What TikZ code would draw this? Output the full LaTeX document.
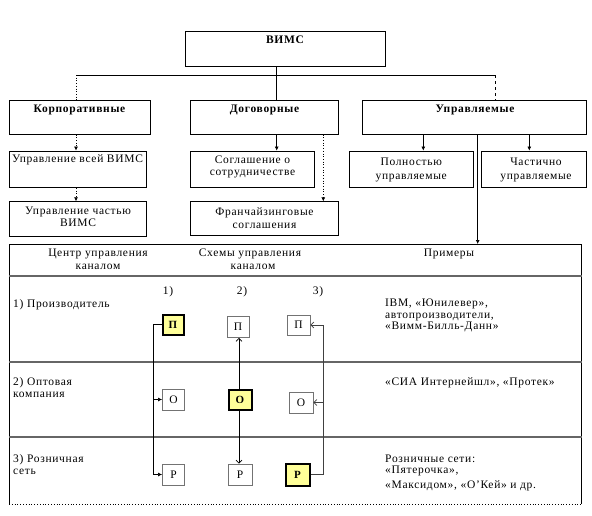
\documentclass[tikz,border=0pt]{standalone}
\usepackage{fontspec}
\setmainfont{Liberation Serif}[LetterSpace=6]
\usetikzlibrary{arrows.meta}
\definecolor{lyel}{RGB}{255,255,153}
\begin{document}
\begin{tikzpicture}[x=1pt,y=-1pt,
  font=\fontsize{11.5}{13}\selectfont,
  bx/.style={draw, line width=0.7pt, inner sep=0pt},
  hb/.style={font=\fontsize{11.5}{13}\selectfont\bfseries, inner sep=0pt},
  tx/.style={inner sep=0pt, anchor=base},
  tl/.style={inner sep=0pt, anchor=base west},
  arr/.style={-{Latex[length=4pt,width=4pt]}},
  sb/.style={draw=black!55, line width=0.9pt, inner sep=0pt, minimum width=22pt, minimum height=21pt},
  yb/.style={draw=black, line width=2pt, fill=lyel, inner sep=0pt, minimum width=21pt, minimum height=20pt, font=\fontsize{11}{13}\selectfont\bfseries},
  fa/.style={-{Latex[length=4pt,width=4pt]}, line width=0.6pt},
  oa/.style={-{Straight Barb[length=3pt,width=6pt]}, line width=0.6pt},
  rowl/.style={draw=black!60, line width=1.1pt}
]
\useasboundingbox (0,0) rectangle (592,515);

% top level
\node[bx, minimum width=200pt, minimum height=35pt] (vims) at (285,49.2) {};
\node[hb] (vimsT) at (285,39.5) {ВИМС};

\node[bx, minimum width=140.7pt, minimum height=33.6pt] (korp) at (79.7,117.5) {};
\node[hb] (korpT) at (79.5,109.5) {Корпоративные};
\node[bx, minimum width=147.6pt, minimum height=33.6pt] (dog) at (264.5,117.5) {};
\node[hb] (dogT) at (264.5,110) {Договорные};
\node[bx, minimum width=223.7pt, minimum height=33.6pt] (upr) at (474.2,117.5) {};
\node[hb] (uprT) at (475,109.5) {Управляемые};

\coordinate (j0) at (276.7,75);
\coordinate (jl) at (76,75);
\coordinate (jr) at (495.7,75);
\draw[line width=0.7pt] (vims.south -| j0) -- (dog.north -| j0);
\draw[line width=0.7pt] (jl) -- (jr);
\draw[line width=0.7pt, dotted] (jl) -- (korp.north -| jl);
\draw[line width=0.7pt, dashed] (jr) -- (upr.north -| jr);

% second level
\node[bx, minimum width=137.4pt, minimum height=36.7pt] (all1) at (78,169.3) {};
\node[tx] (all1T) at (77.5,162) {Управление всей ВИМС};
\node[bx, minimum width=137.4pt, minimum height=34.3pt] (part) at (78,218.8) {};
\node[tx] (partT1) at (78,214) {Управление частью};
\node[tx] (partT2) at (78,226) {ВИМС};

\node[bx, minimum width=123.6pt, minimum height=36.7pt] (sogl) at (252.5,169.3) {};
\node[tx] (soglT1) at (252.5,163) {Соглашение о};
\node[tx] (soglT2) at (252.5,175.5) {сотрудничестве};
\node[bx, minimum width=147.6pt, minimum height=33.8pt] (fran) at (264.5,218.6) {};
\node[tx] (franT1) at (264.5,215.5) {Франчайзинговые};
\node[tx] (franT2) at (264.5,228) {соглашения};

\node[bx, minimum width=124.3pt, minimum height=36.7pt] (full) at (411.2,169.3) {};
\node[tx] (fullT1) at (411.2,165.5) {Полностью};
\node[tx] (fullT2) at (411.2,179) {управляемые};
\node[bx, minimum width=104.3pt, minimum height=36.7pt] (partm) at (533.8,169.3) {};
\node[tx] (partmT1) at (536,165.5) {Частично};
\node[tx] (partmT2) at (536,179) {управляемые};

\coordinate (xk) at (76,0);
\coordinate (xd) at (276.7,0);
\coordinate (xf) at (323.3,0);
\coordinate (xu1) at (423.3,0);
\coordinate (xu2) at (529.3,0);
\coordinate (xu3) at (477.7,0);
\draw[arr, dotted, line width=0.7pt] (korp.south -| xk) -- (all1.north -| xk);
\draw[arr, dotted, line width=0.7pt] (all1.south -| xk) -- (part.north -| xk);
\draw[arr, line width=0.7pt] (dog.south -| xd) -- (sogl.north -| xd);
\draw[arr, dotted, line width=0.7pt] (dog.south -| xf) -- (fran.north -| xf);
\draw[arr, line width=0.7pt] (upr.south -| xu1) -- (full.north -| xu1);
\draw[arr, line width=0.7pt] (upr.south -| xu2) -- (partm.north -| xu2);

% table
\coordinate (tnw) at (9,244);
\coordinate (tne) at (581.5,244);
\coordinate (tsw) at (9,504);
\coordinate (tse) at (581.5,504);
\draw[line width=0.8pt] (tsw) -- (tnw) -- (tne) -- (tse);
\draw[line width=0.8pt, dotted] (tsw) -- (tse);
\draw[rowl] (9,276) -- (581.5,276);
\draw[rowl] (9,362) -- (581.5,362);
\draw[rowl] (9,437) -- (581.5,437);
\coordinate (tin) at (477.7,244);
\draw[arr, line width=0.7pt] (upr.south -| xu3) -- (tin);

% header
\node[tx] (h1a) at (98,256) {Центр управления};
\node[tx] (h1b) at (98,269) {каналом};
\node[tx] (h2a) at (250,256) {Схемы управления};
\node[tx] (h2b) at (253,269) {каналом};
\node[tx] (h3) at (449,256) {Примеры};

% row labels
\node[tl] (r1) at (13,307) {1) Производитель};
\node[tl] (r2a) at (13,385) {2) Оптовая};
\node[tl] (r2b) at (13,397) {компания};
\node[tl] (r3a) at (13,462) {3) Розничная};
\node[tl] (r3b) at (13,474) {сеть};

\node[tx] (n1) at (168,294) {1)};
\node[tx] (n2) at (242,294) {2)};
\node[tx] (n3) at (318,294) {3)};

% examples
\node[tl] (e1a) at (385,306) {IBM, «Юнилевер»,};
\node[tl] (e1b) at (385,318) {автопроизводители,};
\node[tl] (e1c) at (385,329) {«Вимм-Билль-Данн»};
\node[tl] (e2) at (385,385) {«СИА Интернейшл», «Протек»};
\node[tl] (e3a) at (385,462) {Розничные сети:};
\node[tl] (e3b) at (385,473) {«Пятерочка»,};
\node[tl] (e3c) at (385,488) {«Максидом», «О'Кей» и др.};

% small boxes
\node[yb] (p1) at (173,324.5) {П};
\node[sb] (p2) at (238,327) {П};
\node[sb, minimum width=23pt, minimum height=20pt] (p3) at (298.5,325) {П};
\node[sb] (o1) at (173.5,399.5) {О};
\node[yb, minimum width=23pt] (o2) at (240,400) {О};
\node[sb, minimum width=24pt] (o3) at (301,402.5) {О};
\node[sb] (q1) at (173.5,474.5) {Р};
\node[sb, minimum width=24pt] (q2) at (240,474.5) {Р};
\node[yb, minimum width=24pt, minimum height=22pt] (q3) at (297.5,474.5) {Р};

% scheme 1
\coordinate (s1a) at (153,324.5);
\coordinate (s1b) at (153,474.5);
\coordinate (s1c) at (153,399.5);
\draw[line width=0.6pt] (p1.west) -- (s1a) -- (s1b);
\draw[fa] (s1b) -- (q1.west);
\draw[fa] (s1c) -- (o1.west);
% scheme 2
\coordinate (xs2) at (239,0);
\draw[oa] (o2.north -| xs2) -- (p2.south -| xs2);
\draw[oa] (o2.south -| xs2) -- (q2.north -| xs2);
% scheme 3
\coordinate (s3a) at (323,474.5);
\coordinate (s3b) at (323,325);
\coordinate (s3c) at (323,402.5);
\draw[line width=0.6pt, draw=black!75] (q3.east) -- (s3a) -- (s3b);
\draw[oa, draw=black!75] (s3b) -- (p3.east);
\draw[oa, draw=black!75] (s3c) -- (o3.east);
\end{tikzpicture}
\end{document}
